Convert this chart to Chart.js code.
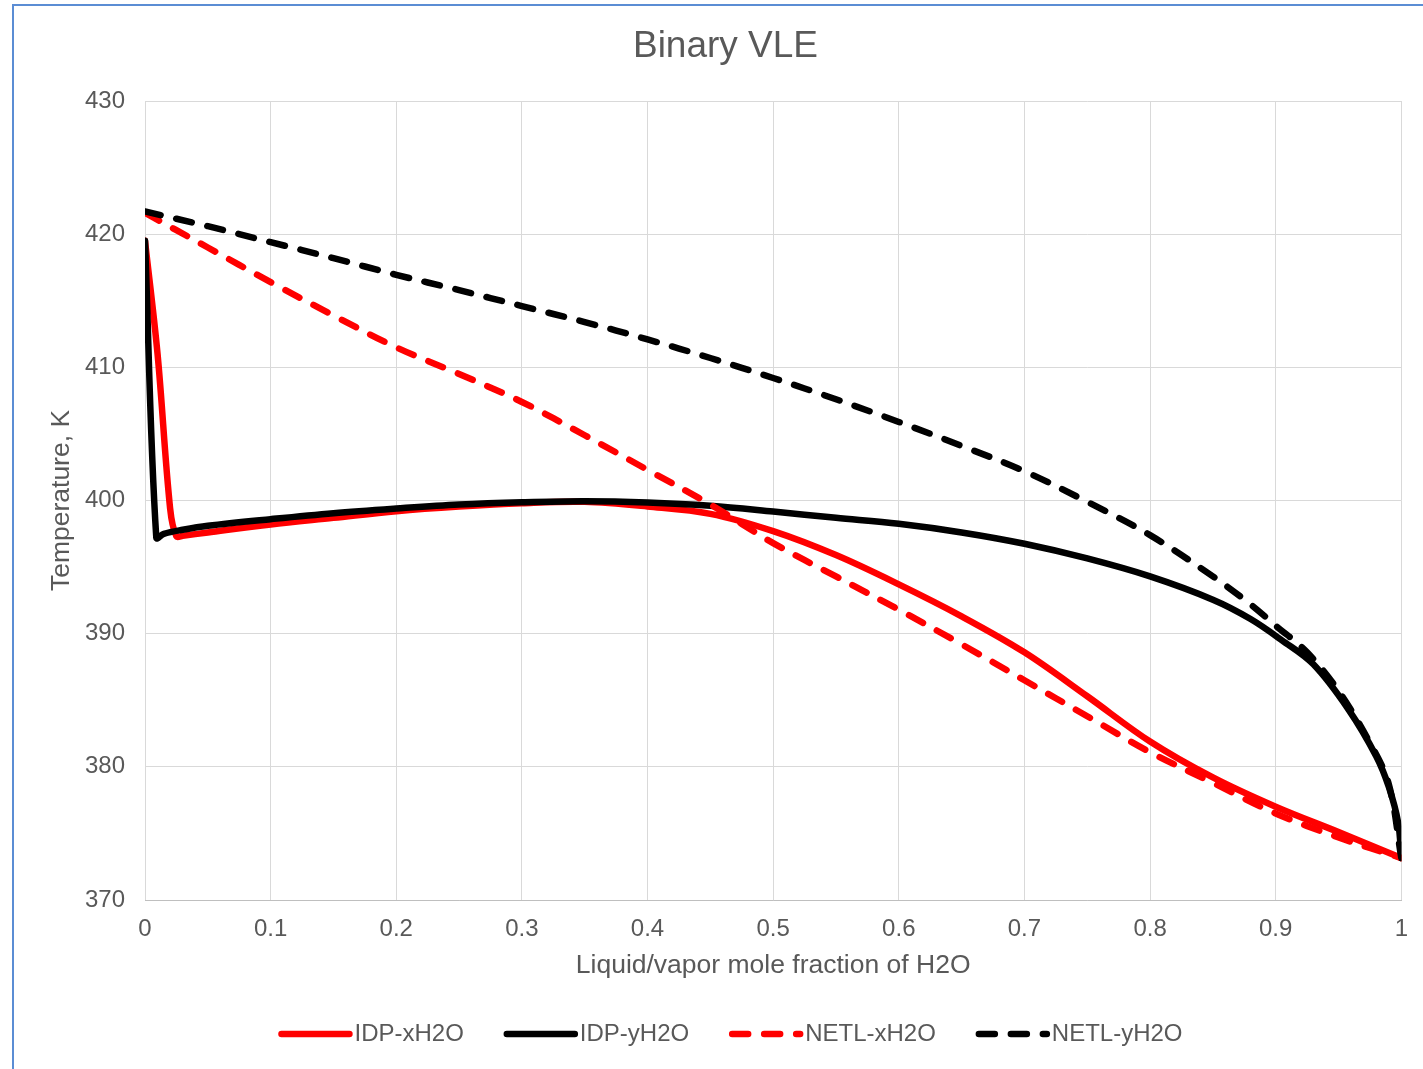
<!DOCTYPE html>
<html>
<head>
<meta charset="utf-8">
<title>Binary VLE</title>
<script src="https://cdn.jsdelivr.net/npm/chart.js@4.4.1/dist/chart.umd.min.js"></script>
<style>
  html, body { margin: 0; padding: 0; background: #ffffff; }
  canvas { display: block; }
</style>
</head>
<body>
<canvas id="vle" width="1423" height="1069"></canvas>
<script>
// ---- chart text ----
const chartTitle = 'Binary VLE';
const xAxisTitle = 'Liquid/vapor mole fraction of H2O';
const yAxisTitle = 'Temperature, K';
const seriesNames = ['IDP-xH2O', 'IDP-yH2O', 'NETL-xH2O', 'NETL-yH2O'];

// ---- axis ticks ----
const xTicks = [0, 0.1, 0.2, 0.3, 0.4, 0.5, 0.6, 0.7, 0.8, 0.9, 1];
const xTickLabels = ['0', '0.1', '0.2', '0.3', '0.4', '0.5', '0.6', '0.7', '0.8', '0.9', '1'];
const yTicks = [370, 380, 390, 400, 410, 420, 430];
const yTickLabels = ['370', '380', '390', '400', '410', '420', '430'];

// ---- IDP model: liquid (x) and vapor (y) branches ----
const idpLiqX = [0, 0.01, 0.02, 0.025, 0.03, 0.05, 0.1, 0.15, 0.2, 0.25, 0.3, 0.35, 0.4, 0.45, 0.5, 0.55, 0.6, 0.65, 0.7, 0.75, 0.8, 0.85, 0.9, 0.95, 1];
const idpLiqT = [419.5, 411.0, 399.4, 397.3, 397.35, 397.6, 398.2, 398.7, 399.2, 399.55, 399.8, 399.9, 399.55, 399.0, 397.7, 395.9, 393.7, 391.3, 388.6, 385.3, 381.9, 379.2, 377.0, 375.1, 373.15];

const idpVapX = [0, 0.009, 0.015, 0.03, 0.05, 0.1, 0.15, 0.2, 0.25, 0.3, 0.35, 0.4, 0.45, 0.5, 0.55, 0.6, 0.65, 0.7, 0.75, 0.8, 0.85, 0.88, 0.905, 0.93, 0.958, 0.98, 0.99, 0.9975, 1];
const idpVapT = [419.5, 397.2, 397.5, 397.8, 398.1, 398.6, 399.05, 399.4, 399.7, 399.87, 399.95, 399.85, 399.6, 399.17, 398.7, 398.25, 397.6, 396.75, 395.65, 394.3, 392.55, 391.1, 389.5, 387.7, 384.3, 380.8, 378.5, 375.8, 373.15];

// ---- NETL model: liquid (x) and vapor (y) branches ----
const netlLiqX = [0, 0.05, 0.1, 0.15, 0.2, 0.25, 0.3, 0.35, 0.4, 0.45, 0.5, 0.55, 0.6, 0.65, 0.7, 0.75, 0.8, 0.85, 0.9, 0.95, 1];
const netlLiqT = [421.6, 419.0, 416.4, 413.9, 411.5, 409.5, 407.4, 404.9, 402.3, 399.7, 396.8, 394.3, 391.8, 389.2, 386.5, 383.8, 381.1, 378.8, 376.5, 374.7, 373.15];

const netlVapX = [0, 0.05, 0.1, 0.15, 0.2, 0.25, 0.3, 0.35, 0.4, 0.45, 0.5, 0.55, 0.6, 0.65, 0.7, 0.75, 0.8, 0.85, 0.88, 0.9, 0.925, 0.95, 0.975, 0.99, 1];
const netlVapT = [421.7, 420.6, 419.4, 418.2, 416.95, 415.8, 414.6, 413.4, 412.1, 410.7, 409.2, 407.6, 405.9, 404.1, 402.2, 399.9, 397.4, 394.3, 392.2, 390.6, 388.6, 385.7, 381.8, 378.7, 373.15];

// ---- styling ----
const FONT = "'Liberation Sans', Arial, Helvetica, sans-serif";
const TEXT = '#595959';
const GRID = '#d9d9d9';

function toPoints(xs, ts) {
  return xs.map((x, i) => ({ x: x, y: ts[i] }));
}

function lineSeries(label, xs, ts, color, dashed, order) {
  return {
    label: label,
    data: toPoints(xs, ts),
    showLine: true,
    borderColor: color,
    backgroundColor: color,
    borderWidth: 6.5,
    borderDash: dashed ? [16, 16] : [],
    borderCapStyle: 'round',
    borderJoinStyle: 'round',
    tension: 0.35,
    pointRadius: 0,
    pointHoverRadius: 0,
    fill: false,
    order: order
  };
}

// chart frame and background
const framePlugin = {
  id: 'frame',
  beforeDraw(chart) {
    const ctx = chart.ctx;
    ctx.save();
    ctx.fillStyle = '#ffffff';
    ctx.fillRect(0, 0, chart.width, chart.height);
    ctx.fillStyle = '#5b8dd4';
    ctx.fillRect(12, 4, 2, chart.height - 4);
    ctx.fillRect(12, 4, chart.width - 12, 2);
    ctx.restore();
  }
};

// chart heading
const headingPlugin = {
  id: 'heading',
  afterDraw(chart) {
    const ctx = chart.ctx;
    ctx.save();
    ctx.font = '37px ' + FONT;
    ctx.fillStyle = TEXT;
    ctx.textAlign = 'center';
    ctx.textBaseline = 'middle';
    ctx.fillText(chartTitle, 725.5, 47);
    ctx.restore();
  }
};

// legend with line samples below the x-axis title
const lineLegendPlugin = {
  id: 'lineLegend',
  afterDraw(chart) {
    const ctx = chart.ctx;
    const sample = 74, gap = 2, spacing = 40, y = 1034;
    ctx.save();
    ctx.font = '24px ' + FONT;
    const items = chart.data.datasets.map(ds => ({ ds: ds, w: ctx.measureText(ds.label).width }));
    const total = items.reduce((s, it) => s + sample + gap + it.w, 0) + spacing * (items.length - 1);
    let x = 730.5 - total / 2;
    items.forEach(({ ds, w }) => {
      ctx.beginPath();
      ctx.setLineDash(ds.borderDash || []);
      ctx.lineDashOffset = 0;
      ctx.lineCap = 'round';
      ctx.lineWidth = ds.borderWidth;
      ctx.strokeStyle = ds.borderColor;
      ctx.moveTo(x + 3, y);
      ctx.lineTo(x + sample - 3, y);
      ctx.stroke();
      ctx.setLineDash([]);
      ctx.fillStyle = TEXT;
      ctx.textAlign = 'left';
      ctx.textBaseline = 'middle';
      ctx.fillText(ds.label, x + sample + gap, y);
      x += sample + gap + w + spacing;
    });
    ctx.restore();
  }
};

new Chart(document.getElementById('vle'), {
  type: 'scatter',
  data: {
    datasets: [
      lineSeries(seriesNames[0], idpLiqX, idpLiqT, '#ff0000', false, 3),
      lineSeries(seriesNames[1], idpVapX, idpVapT, '#000000', false, 2),
      lineSeries(seriesNames[2], netlLiqX, netlLiqT, '#ff0000', true, 1),
      lineSeries(seriesNames[3], netlVapX, netlVapT, '#000000', true, 0)
    ]
  },
  options: {
    responsive: false,
    animation: false,
    devicePixelRatio: 1,
    layout: { padding: { left: 20, right: 20, top: 101, bottom: 69 } },
    plugins: {
      legend: { display: false },
      title: { display: false },
      tooltip: { enabled: false }
    },
    scales: {
      x: {
        type: 'linear',
        min: 0,
        max: 1,
        afterBuildTicks: s => { s.ticks = xTicks.map(v => ({ value: v })); },
        afterFit: s => { s.height = 100; },
        ticks: {
          font: { family: FONT, size: 24 },
          color: TEXT,
          padding: 15,
          maxRotation: 0,
          autoSkip: false,
          callback: (v, i) => xTickLabels[i]
        },
        grid: { color: GRID, lineWidth: 1, drawTicks: false },
        border: { color: '#bfbfbf', width: 1 },
        title: {
          display: true,
          text: xAxisTitle,
          color: TEXT,
          font: { family: FONT, size: 26.5 },
          padding: { top: 0, bottom: 18 }
        }
      },
      y: {
        type: 'linear',
        min: 370,
        max: 430,
        afterBuildTicks: s => { s.ticks = yTicks.map(v => ({ value: v })); },
        afterFit: s => { s.width = 125; },
        ticks: {
          font: { family: FONT, size: 24 },
          color: TEXT,
          padding: 20,
          autoSkip: false,
          callback: (v, i) => yTickLabels[i]
        },
        grid: { color: GRID, lineWidth: 1, drawTicks: false },
        border: { display: false },
        title: {
          display: true,
          text: yAxisTitle,
          color: TEXT,
          font: { family: FONT, size: 26.5 },
          padding: { top: 26, bottom: 0 }
        }
      }
    }
  },
  plugins: [framePlugin, headingPlugin, lineLegendPlugin]
});
</script>
</body>
</html>
